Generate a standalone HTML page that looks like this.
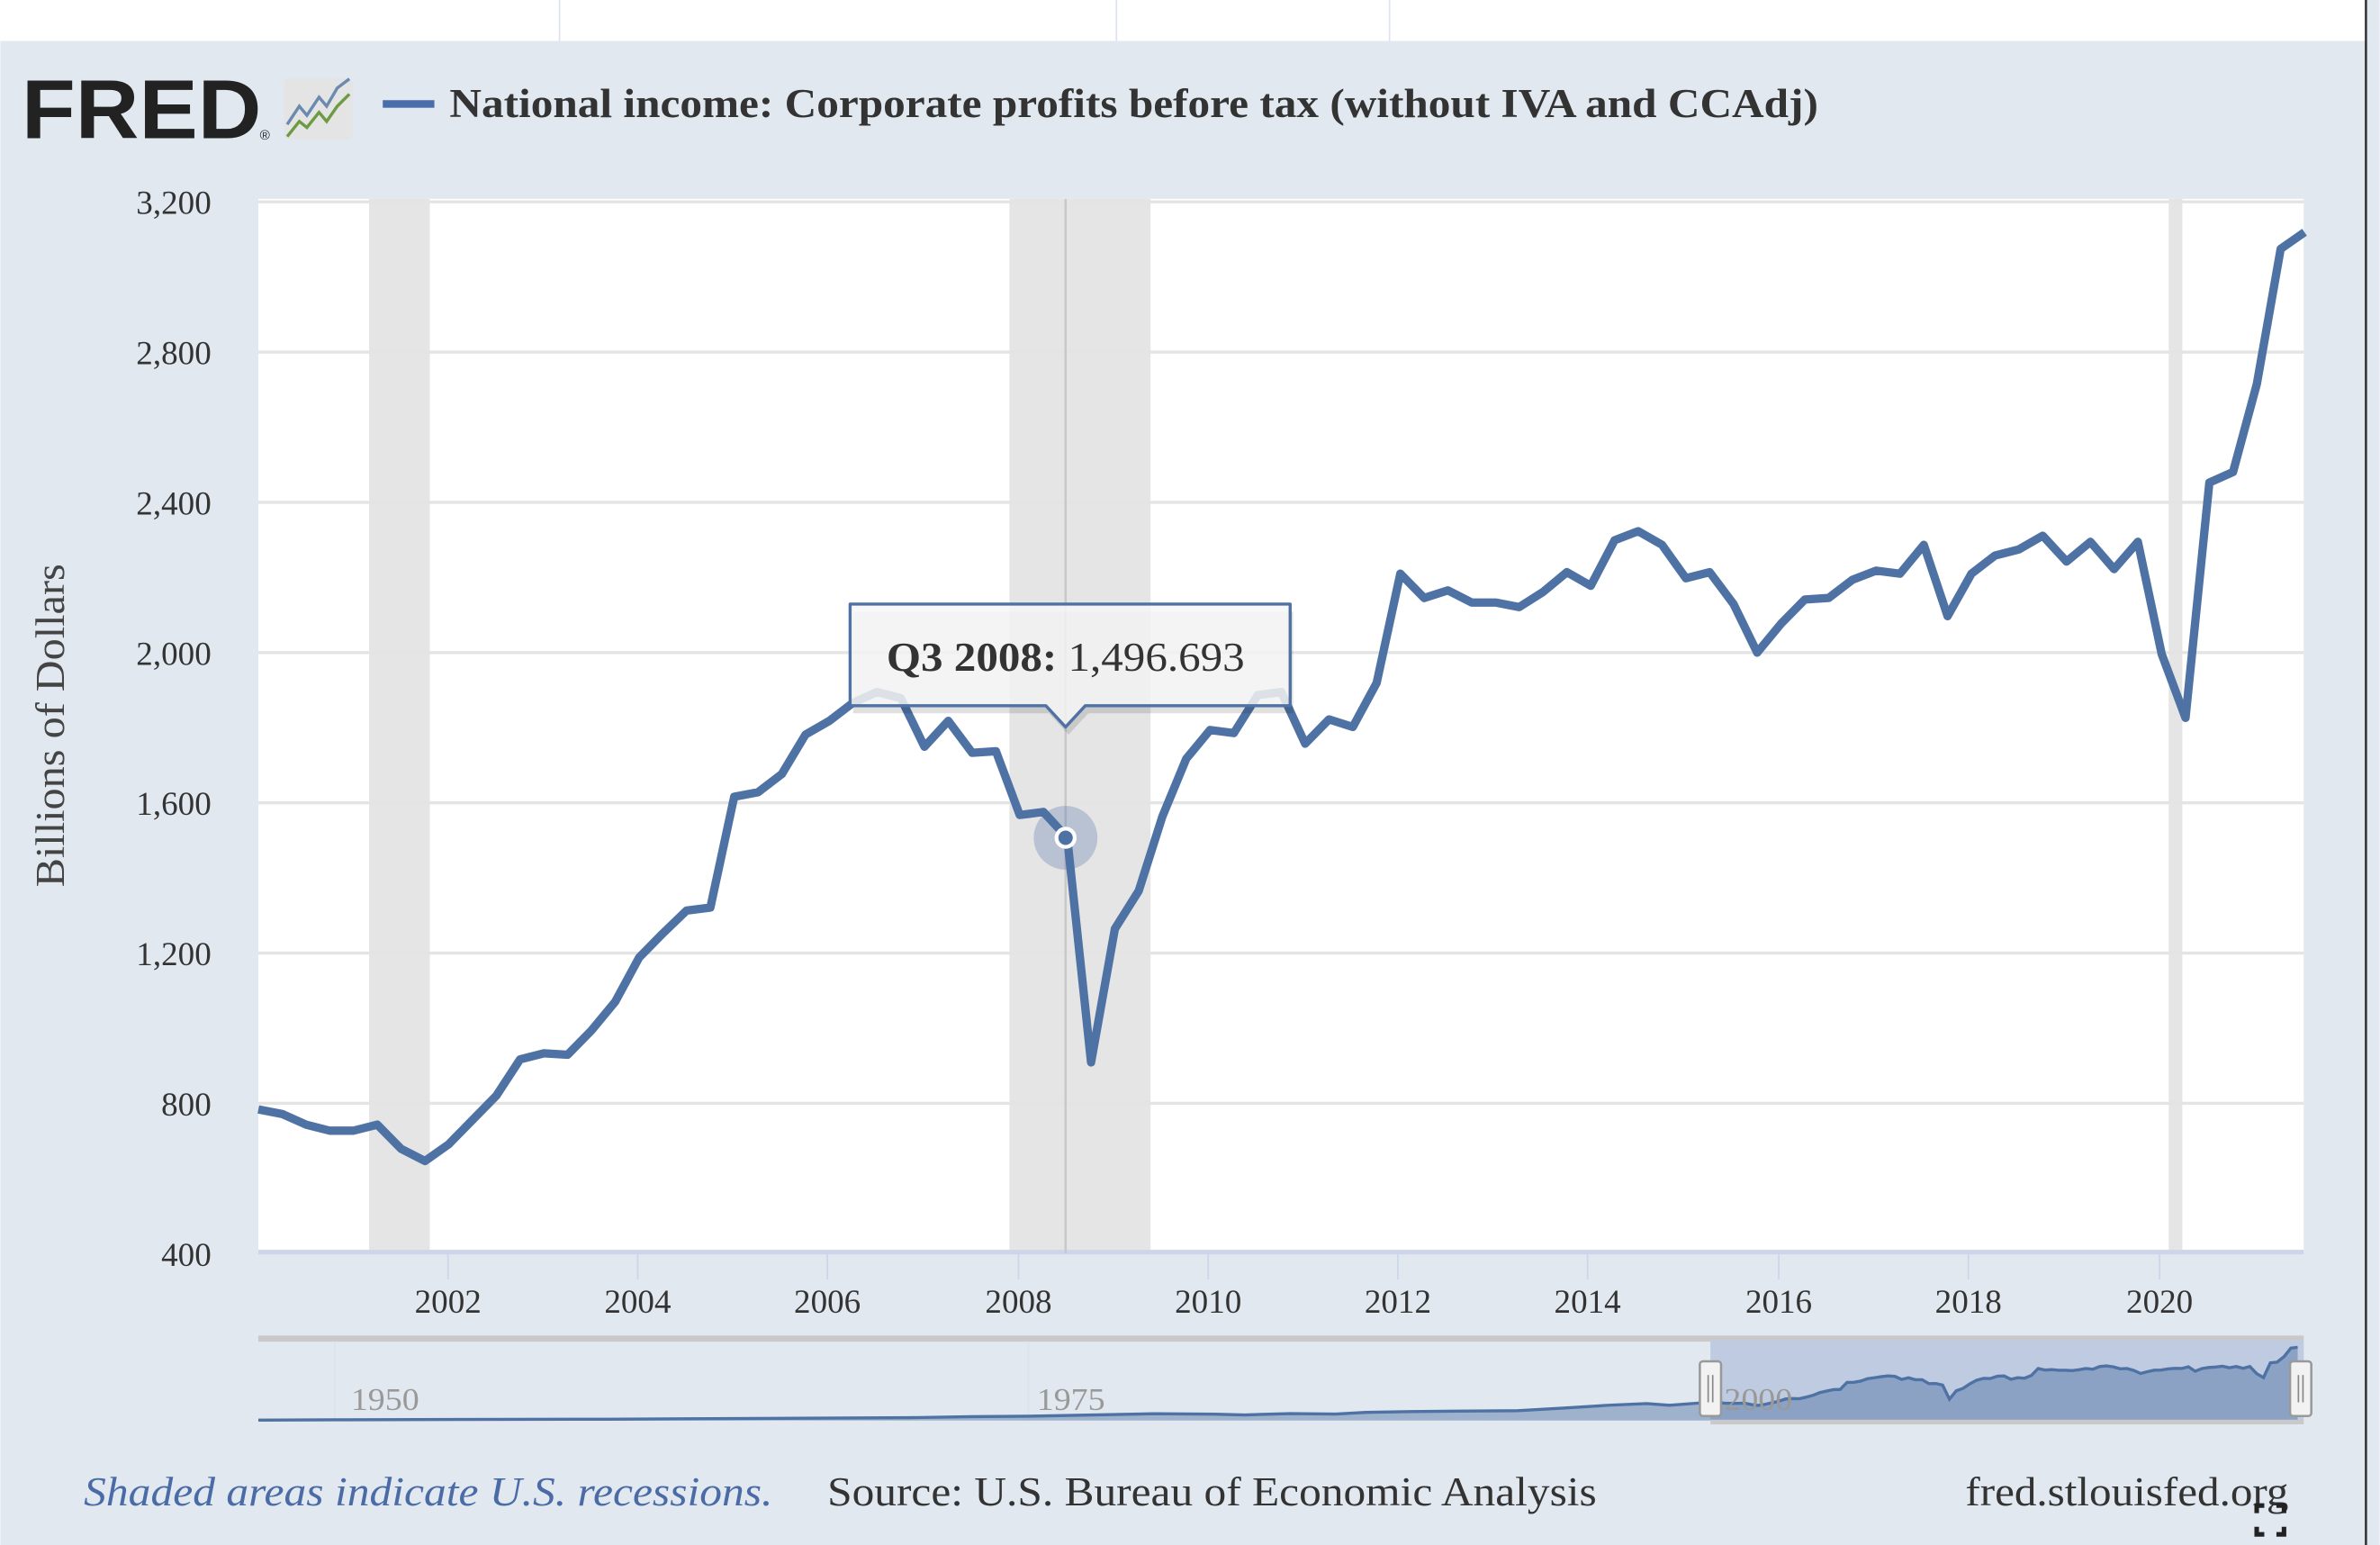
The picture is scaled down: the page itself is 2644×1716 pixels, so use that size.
<!DOCTYPE html>
<html><head><meta charset="utf-8"><style>
html,body{margin:0;padding:0;background:#fff;}
svg{display:block;}
</style></head><body>
<svg id="s" width="2644" height="1716" viewBox="0 0 1568 1018" xmlns="http://www.w3.org/2000/svg" font-family="'Liberation Serif', serif">
<rect x="0" y="0" width="1568" height="1018" fill="#e1e8ef"/>
<rect x="0" y="0" width="1560" height="27" fill="#fff"/>
<line x1="368.5" y1="0" x2="368.5" y2="27" stroke="#dde4ec"/>
<line x1="735.5" y1="0" x2="735.5" y2="27" stroke="#dde4ec"/>
<line x1="915.5" y1="0" x2="915.5" y2="27" stroke="#dde4ec"/>
<rect x="1559" y="0" width="9" height="1018" fill="#e1e8ef"/>
<line x1="1559" y1="0" x2="1559" y2="1018" stroke="#333" stroke-width="1.5"/>
<!-- header -->
<text x="14" y="91" font-family="'Liberation Sans',sans-serif" font-weight="bold" font-size="55" fill="#222" textLength="158" lengthAdjust="spacingAndGlyphs">FRED</text>
<text x="171" y="92" font-family="'Liberation Sans',sans-serif" font-size="9" fill="#222">®</text>
<rect x="187" y="52" width="45" height="40" rx="3" fill="#e4e4e4"/>
<polyline points="189,82 197,70 202,76 210,64 215,70 222,58 230,52" fill="none" stroke="#6a8ab0" stroke-width="2"/>
<polyline points="189,90 197,80 202,84 210,74 215,80 222,70 230,62" fill="none" stroke="#6e9a42" stroke-width="2"/>
<rect x="252" y="66" width="34" height="5" fill="#4a6ea9"/>
<text x="296" y="77" font-weight="bold" font-size="27" fill="#333" textLength="902" lengthAdjust="spacingAndGlyphs">National income: Corporate profits before tax (without IVA and CCAdj)</text>
<!-- plot -->
<rect x="170" y="131" width="1348" height="695" fill="#fff"/>
<rect x="243" y="131" width="40" height="695" fill="#e5e5e5"/>
<rect x="665" y="131" width="93" height="695" fill="#e5e5e5"/>
<rect x="1429" y="131" width="9" height="695" fill="#e5e5e5"/>
<g stroke="#e4e4e4" stroke-width="2">
<line x1="170" x2="1518" y1="133" y2="133"/>
<line x1="170" x2="1518" y1="232" y2="232"/>
<line x1="170" x2="1518" y1="331" y2="331"/>
<line x1="170" x2="1518" y1="430" y2="430"/>
<line x1="170" x2="1518" y1="529" y2="529"/>
<line x1="170" x2="1518" y1="628" y2="628"/>
<line x1="170" x2="1518" y1="727" y2="727"/>
</g>
<line x1="170" x2="1518" y1="825" y2="825" stroke="#ccd6eb" stroke-width="3"/>
<g stroke="#ccd6eb" stroke-width="1">
<line x1="295" x2="295" y1="826" y2="843"/><line x1="420" x2="420" y1="826" y2="843"/>
<line x1="545" x2="545" y1="826" y2="843"/><line x1="671" x2="671" y1="826" y2="843"/>
<line x1="796" x2="796" y1="826" y2="843"/><line x1="921" x2="921" y1="826" y2="843"/>
<line x1="1046" x2="1046" y1="826" y2="843"/><line x1="1172" x2="1172" y1="826" y2="843"/>
<line x1="1297" x2="1297" y1="826" y2="843"/><line x1="1423" x2="1423" y1="826" y2="843"/>
</g>
<g font-size="22" fill="#333" text-anchor="end">
<text x="139" y="141">3,200</text><text x="139" y="240">2,800</text><text x="139" y="339">2,400</text>
<text x="139" y="438">2,000</text><text x="139" y="537">1,600</text><text x="139" y="636">1,200</text>
<text x="139" y="735">800</text><text x="139" y="834">400</text>
</g>
<g font-size="22" fill="#333" text-anchor="middle">
<text x="295" y="865">2002</text><text x="420" y="865">2004</text><text x="545" y="865">2006</text>
<text x="671" y="865">2008</text><text x="796" y="865">2010</text><text x="921" y="865">2012</text>
<text x="1046" y="865">2014</text><text x="1172" y="865">2016</text><text x="1297" y="865">2018</text>
<text x="1423" y="865">2020</text>
</g>
<text transform="translate(42,478) rotate(-90)" font-size="27" fill="#444" text-anchor="middle" textLength="213" lengthAdjust="spacingAndGlyphs">Billions of Dollars</text>
<line x1="702" y1="131" x2="702" y2="826" stroke="#c8c8c8" stroke-width="1.5"/>
<polyline id="main" fill="none" stroke="#4e72a4" stroke-width="5.5" stroke-linejoin="round"/>
<circle cx="702" cy="552" r="21" fill="#4e72a4" fill-opacity="0.3"/>
<circle cx="702" cy="552" r="6" fill="#4e72a4" stroke="#fff" stroke-width="2.5"/>
<!-- tooltip -->
<path d="M560,400 H850 V467 H715 L702,481 L689,467 H560 Z" fill="#000" fill-opacity="0.12" transform="translate(2,3)"/>
<path d="M560,398 H850 V465 H715 L702,479 L689,465 H560 Z" fill="#f7f7f7" fill-opacity="0.85" stroke="#4e72a4" stroke-width="2" stroke-linejoin="round"/>
<text x="584" y="442" font-size="27" fill="#333" textLength="236" lengthAdjust="spacingAndGlyphs"><tspan font-weight="bold">Q3 2008:</tspan> 1,496.693</text>
<!-- navigator -->
<rect x="170" y="881" width="1348" height="55" fill="#e1e8ef"/>
<line x1="170" x2="1518" y1="882" y2="882" stroke="#c9c9c9" stroke-width="4"/>
<rect x="1127" y="883" width="391" height="53" fill="#bfcbe1"/>
<line x1="220.5" y1="884" x2="220.5" y2="936" stroke="#dde3ea"/>
<line x1="677.5" y1="884" x2="677.5" y2="936" stroke="#dde3ea"/>
<path id="navA" fill="#4e72a4" fill-opacity="0.45"/>
<polyline id="navL" fill="none" stroke="#4e72a4" stroke-width="2"/>
<line x1="1127" x2="1518" y1="937" y2="937" stroke="#c9c9c9" stroke-width="3"/>
<g font-size="21" fill="#999">
<text x="231" y="929" textLength="45" lengthAdjust="spacingAndGlyphs">1950</text><text x="683" y="929" textLength="45" lengthAdjust="spacingAndGlyphs">1975</text><text x="1136" y="929" textLength="45" lengthAdjust="spacingAndGlyphs">2000</text>
</g>
<rect x="1120" y="897" width="14" height="36" rx="2" fill="#f2f2f2" stroke="#999" stroke-width="1.5"/>
<line x1="1125.5" y1="906" x2="1125.5" y2="924" stroke="#888"/><line x1="1128.5" y1="906" x2="1128.5" y2="924" stroke="#888"/>
<rect x="1509" y="897" width="14" height="36" rx="2" fill="#f2f2f2" stroke="#999" stroke-width="1.5"/>
<line x1="1514.5" y1="906" x2="1514.5" y2="924" stroke="#888"/><line x1="1517.5" y1="906" x2="1517.5" y2="924" stroke="#888"/>
<!-- footer -->
<text x="55" y="992" font-size="27" font-style="italic" fill="#4a6ba6" textLength="454" lengthAdjust="spacingAndGlyphs">Shaded areas indicate U.S. recessions.</text>
<text x="545" y="992" font-size="27" fill="#333" textLength="507" lengthAdjust="spacingAndGlyphs">Source: U.S. Bureau of Economic Analysis</text>
<text x="1295" y="992" font-size="27" fill="#333" textLength="213" lengthAdjust="spacingAndGlyphs">fred.stlouisfed.org</text>
<g stroke="#222" stroke-width="3" fill="none">
<path d="M1487,997 v-5 h5"/><path d="M1505,997 v-5 h-5"/><path d="M1487,1006 v5 h5"/><path d="M1505,1006 v5 h-5"/>
</g>
</svg>
<script>
var ys=[731,734,741,745,745,741,757,765,754,738,722,698,694,695,679,660,631,615,600,598,525,522,510,484,475,463,456,460,492,475,496,495,537,535,552,700,612,587,538,500,481,483,458,456,490,474,479,450,378,394,389,397,397,400,390,377,386,356,350,359,381,377,398,430,411,395,394,382,376,378,359,406,378,366,362,353,370,357,375,357,431,473,318,311,253,164,153];
var pts=[];for(var i=0;i<ys.length;i++){pts.push((170+i*15.68).toFixed(1)+','+ys[i]);}
document.getElementById('main').setAttribute('points',pts.join(' '));
var nv=[];
var hist=[[170,20],[220,35],[300,45],[400,60],[500,90],[600,120],[640,170],[678,190],[720,240],[760,290],[800,270],[820,240],[850,300],[880,280],[900,350],[930,380],[960,400],[1000,420],[1030,530],[1060,650],[1085,720],[1100,650],[1127,780]];
hist.forEach(function(p){nv.push([p[0],936-p[1]*0.0155]);});
for(var i=1;i<ys.length;i++){var v=400+(826-ys[i])/0.2475;nv.push([1127+i*4.5,936-v*0.0155]);}
var l=nv.map(function(p){return p[0].toFixed(1)+','+p[1].toFixed(1);}).join(' ');
document.getElementById('navL').setAttribute('points',l);
document.getElementById('navA').setAttribute('d','M170,936 L'+l.split(' ').join(' L')+' L'+nv[nv.length-1][0].toFixed(1)+',936 Z');
</script>
</body></html>
